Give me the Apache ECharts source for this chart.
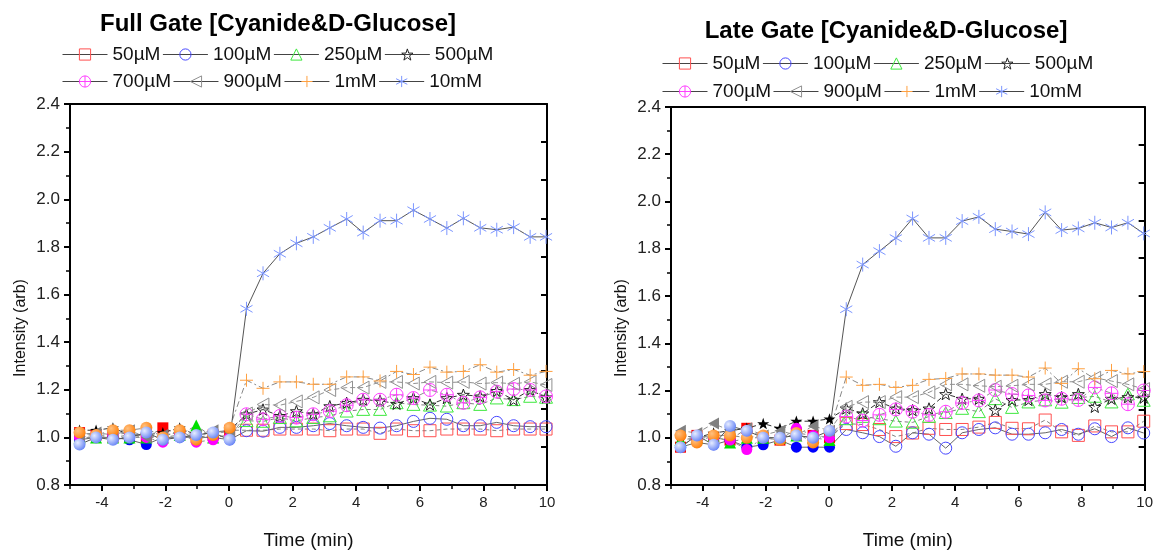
<!DOCTYPE html>
<html><head><meta charset="utf-8">
<script src="https://cdn.jsdelivr.net/npm/echarts@6/dist/echarts.min.js"></script>
<style>html,body{margin:0;padding:0;background:#fff}#c{width:1156px;height:555px}</style>
</head><body><div id="c"></div><script>
// ---------- DATA ----------
const titles = ['Full Gate [Cyanide&D-Glucose]', 'Late Gate [Cyanide&D-Glucose]'];
const concentrations = ['50µM', '100µM', '250µM', '500µM', '700µM', '900µM', '1mM', '10mM'];
const times = [-4.70, -4.18, -3.65, -3.13, -2.60, -2.08, -1.55, -1.03, -0.50, 0.02,
  0.55, 1.07, 1.60, 2.12, 2.65, 3.17, 3.70, 4.22, 4.75, 5.27, 5.80, 6.32, 6.85, 7.37, 7.90, 8.42, 8.95, 9.47, 9.97];
const xMajorTicks = [-4, -2, 0, 2, 4, 6, 8, 10];
const xMinorTicks = [-5, -3, -1, 1, 3, 5, 7, 9];

// Full gate
const full_50   = [1.02, 1.01, 1.00, 1.01, 1.00, 1.04, 1.01, 1.00, 1.01, 1.03,
  1.03, 1.03, 1.035, 1.035, 1.035, 1.028, 1.035, 1.035, 1.017, 1.035, 1.028, 1.028, 1.035, 1.035, 1.035, 1.028, 1.035, 1.035, 1.035];
const full_100  = [0.99, 1.00, 1.00, 0.99, 0.97, 1.00, 1.00, 1.00, 1.00, 0.99,
  1.028, 1.026, 1.042, 1.042, 1.049, 1.058, 1.049, 1.042, 1.039, 1.049, 1.067, 1.080, 1.076, 1.049, 1.049, 1.063, 1.049, 1.045, 1.045];
const full_250  = [1.00, 1.00, 1.00, 1.00, 1.00, 1.00, 1.01, 1.05, 1.00, 1.01,
  1.07, 1.067, 1.083, 1.069, 1.083, 1.090, 1.110, 1.117, 1.117, 1.145, 1.138, 1.135, 1.131, 1.145, 1.138, 1.165, 1.158, 1.172, 1.168];
const full_500  = [1.03, 1.03, 1.04, 1.01, 1.01, 1.02, 1.04, 1.01, 1.02, 1.03,
  1.097, 1.117, 1.090, 1.110, 1.097, 1.131, 1.145, 1.158, 1.154, 1.141, 1.165, 1.138, 1.165, 1.179, 1.172, 1.195, 1.158, 1.199, 1.168];
const full_700  = [1.00, 1.01, 1.01, 1.02, 1.00, 0.98, 1.02, 0.98, 0.99, 1.00,
  1.097, 1.076, 1.090, 1.083, 1.097, 1.110, 1.135, 1.158, 1.158, 1.179, 1.165, 1.199, 1.179, 1.145, 1.168, 1.192, 1.203, 1.199, 1.172];
const full_900  = [1.01, 1.02, 1.01, 1.03, 1.00, 1.01, 1.02, 1.01, 1.03, 1.02,
  1.10, 1.138, 1.135, 1.151, 1.168, 1.199, 1.209, 1.209, 1.233, 1.233, 1.226, 1.233, 1.230, 1.233, 1.226, 1.230, 1.225, 1.233, 1.220];
const full_1mM  = [1.02, 1.01, 1.03, 1.03, 1.04, 1.00, 1.03, 0.99, 1.01, 1.04,
  1.240, 1.206, 1.233, 1.233, 1.223, 1.223, 1.254, 1.254, 1.237, 1.277, 1.264, 1.295, 1.274, 1.277, 1.305, 1.274, 1.285, 1.261, 1.277];
const full_10mM = [0.97, 1.00, 0.99, 1.00, 1.02, 0.99, 1.00, 1.01, 1.02, 0.99,
  1.54, 1.689, 1.771, 1.815, 1.842, 1.880, 1.917, 1.860, 1.910, 1.910, 1.954, 1.917, 1.879, 1.920, 1.880, 1.872, 1.883, 1.842, 1.842];

// Late gate
const late_50   = [0.96, 1.01, 1.00, 0.99, 1.04, 1.00, 0.99, 1.02, 1.01, 1.00,
  1.06, 1.056, 1.035, 1.005, 1.02, 1.04, 1.035, 1.035, 1.045, 1.065, 1.04, 1.038, 1.075, 1.025, 1.01, 1.05, 1.025, 1.025, 1.07];
const late_100  = [0.96, 0.98, 0.97, 0.99, 0.96, 0.97, 0.99, 0.96, 0.96, 0.96,
  1.035, 1.021, 1.005, 0.964, 1.021, 1.015, 0.956, 1.021, 1.035, 1.042, 1.015, 1.015, 1.021, 1.035, 1.015, 1.038, 1.005, 1.042, 1.02];
const late_250  = [0.99, 1.00, 1.01, 0.98, 1.00, 1.00, 1.00, 1.01, 1.00, 0.99,
  1.08, 1.09, 1.08, 1.07, 1.065, 1.09, 1.106, 1.124, 1.11, 1.165, 1.128, 1.151, 1.16, 1.15, 1.17, 1.175, 1.151, 1.185, 1.158];
const late_500  = [1.01, 1.00, 1.02, 1.03, 1.04, 1.06, 1.04, 1.07, 1.07, 1.08,
  1.124, 1.103, 1.151, 1.124, 1.117, 1.124, 1.185, 1.165, 1.165, 1.117, 1.16, 1.16, 1.185, 1.172, 1.185, 1.131, 1.165, 1.172, 1.17];
const late_700  = [1.01, 1.00, 1.00, 0.99, 0.95, 1.00, 0.99, 1.04, 1.01, 1.00,
  1.090, 1.073, 1.097, 1.120, 1.110, 1.097, 1.110, 1.147, 1.158, 1.202, 1.185, 1.179, 1.158, 1.165, 1.16, 1.213, 1.188, 1.142, 1.20];
const late_900  = [1.03, 1.02, 1.06, 1.03, 1.04, 1.01, 1.03, 1.01, 1.05, 1.03,
  1.131, 1.151, 1.151, 1.172, 1.172, 1.192, 1.226, 1.226, 1.220, 1.216, 1.22, 1.226, 1.226, 1.237, 1.237, 1.254, 1.240, 1.226, 1.206];
const late_1mM  = [1.01, 0.98, 1.01, 1.01, 1.00, 1.01, 0.99, 1.02, 0.98, 1.03,
  1.257, 1.222, 1.226, 1.213, 1.222, 1.247, 1.251, 1.270, 1.270, 1.265, 1.265, 1.257, 1.295, 1.23, 1.292, 1.25, 1.285, 1.27, 1.28];
const late_10mM = [0.96, 1.01, 0.97, 1.05, 1.03, 1.00, 1.00, 1.01, 1.00, 1.03,
  1.544, 1.733, 1.790, 1.845, 1.928, 1.846, 1.846, 1.917, 1.935, 1.883, 1.873, 1.862, 1.954, 1.879, 1.886, 1.910, 1.890, 1.910, 1.865];

const fullSeriesValues = [full_50, full_100, full_250, full_500, full_700, full_900, full_1mM, full_10mM];
const lateSeriesValues = [late_50, late_100, late_250, late_500, late_700, late_900, late_1mM, late_10mM];

// ---------- STYLE ----------
const FONT = '"Liberation Sans", Arial, sans-serif';
const P_SQUARE = 'path://M0,0 L10,0 L10,10 L0,10 Z';
const P_CIRCLE = 'path://M10,5 A5,5 0 1,1 0,5 A5,5 0 1,1 10,5 Z';
const P_TRI = 'path://M5,0 L10,9 L0,9 Z';
const P_STAR = 'path://M5,0 L6.18,3.38 L9.76,3.45 L6.9,5.62 L7.94,9.05 L5,7 L2.06,9.05 L3.1,5.62 L0.24,3.45 L3.82,3.38 Z';
const P_CCIRCLE = 'path://M10,5 A5,5 0 1,1 0,5 A5,5 0 1,1 10,5 Z M5,0 L5,10 M0,5 L10,5';
const P_LTRI = 'path://M0,5 L9,0 L9,10 Z';
const P_PLUS = 'path://M5,0 L5,10 M0,5 L10,5';
const P_AST = 'path://M5,0 L5,10 M0.67,2.5 L9.33,7.5 M0.67,7.5 L9.33,2.5';

const hollowSymbol = [P_SQUARE, P_CIRCLE, P_TRI, P_STAR, P_CCIRCLE, P_LTRI, P_PLUS, P_AST];
const hollowSize = [12, 12, 13, 12, 13, 13, 13, 14];
const markColor = ['#ff5050', '#4848ff', '#3ee83e', '#222222', '#ff40ff', '#909090', '#ffa040', '#7c96ff'];
const lineColor = ['#808080', '#666666', '#808080', '#333333', '#909090', '#909090', '#888888', '#555555'];
const lineType = [[4, 3], 'solid', [4, 3], [5, 3], [6, 3, 2, 3], [5, 3], [6, 3, 2, 3], 'solid'];

function sphere(light, dark) {
  return {type: 'radial', x: 0.35, y: 0.35, r: 0.75, colorStops: [{offset: 0, color: light}, {offset: 1, color: dark}]};
}
const preSymbol = ['rect', 'circle', 'triangle', P_STAR, 'circle', P_LTRI, 'circle', 'circle'];
const preSize = [11, 11, 12, 12, 11, 12, 12, 12];
const preFill = ['#ff0000', '#0000ff', '#00e000', '#000000', '#ff00ff', '#808080',
  sphere('#ffc080', '#ff7a00'), sphere('#e6ecff', '#5d7cf5')];

function buildSeries(values, k, xi, yi) {
  const data = times.map(function (t, i) {
    if (t < 0.3) {
      return {value: [t, values[i]], symbol: preSymbol[k], symbolSize: preSize[k],
        itemStyle: {color: preFill[k], borderColor: 'rgba(0,0,0,0)', borderWidth: 0}};
    }
    return [t, values[i]];
  });
  return {
    type: 'line', name: concentrations[k], xAxisIndex: xi, yAxisIndex: yi, data: data,
    symbol: hollowSymbol[k], symbolSize: hollowSize[k], symbolKeepAspect: true, showAllSymbol: true,
    itemStyle: {color: 'rgba(255,255,255,0)', borderColor: markColor[k], borderWidth: 1},
    lineStyle: {color: lineColor[k], width: 1, type: lineType[k]},
    emphasis: {disabled: true}, silent: true
  };
}

const grids = [
  {left: 70, top: 104, width: 477, height: 390},
  {left: 671, top: 107, width: 475, height: 390}
];

const xAxes = [], yAxes = [];
grids.forEach(function (g, gi) {
  xAxes.push({
    gridIndex: gi, type: 'value', min: -5, max: 10, position: 'bottom',
    axisLine: {show: true, onZero: false, lineStyle: {color: '#000', width: 2}},
    axisTick: {show: true, customValues: xMajorTicks, length: 6, lineStyle: {color: '#000', width: 2}},
    axisLabel: {show: true, customValues: xMajorTicks, fontSize: 15, fontFamily: FONT, color: '#222', margin: 10},
    splitLine: {show: false},
    name: 'Time (min)', nameLocation: 'middle', nameGap: 46,
    nameTextStyle: {fontSize: 19, fontFamily: FONT, color: '#111'}
  });
  xAxes.push({
    gridIndex: gi, type: 'value', min: -5, max: 10, position: 'bottom',
    axisLine: {show: false, onZero: false},
    axisTick: {show: true, customValues: xMinorTicks, length: 4, lineStyle: {color: '#000', width: 1.5}},
    axisLabel: {show: false}, splitLine: {show: false}
  });
  xAxes.push({
    gridIndex: gi, type: 'value', min: -5, max: 10, position: 'top',
    axisLine: {show: true, onZero: false, lineStyle: {color: '#000', width: 2}},
    axisTick: {show: false}, axisLabel: {show: false}, splitLine: {show: false}
  });
  yAxes.push({
    gridIndex: gi, type: 'value', min: 0.8, max: 2.4, interval: 0.2, position: 'left',
    axisLine: {show: true, onZero: false, lineStyle: {color: '#000', width: 2}},
    axisTick: {show: true, length: 6, lineStyle: {color: '#000', width: 2}},
    minorTick: {show: true, splitNumber: 2, length: 4, lineStyle: {color: '#000', width: 1.5}},
    axisLabel: {fontSize: 17, fontFamily: FONT, color: '#222', margin: 10,
      formatter: function (v) { return v.toFixed(1); }},
    splitLine: {show: false}, minorSplitLine: {show: false}
  });
  yAxes.push({
    gridIndex: gi, type: 'value', min: 0.8, max: 2.4, interval: 0.16, position: 'right',
    axisLine: {show: true, onZero: false, lineStyle: {color: '#000', width: 2}},
    axisTick: {show: true, inside: true, length: 6, lineStyle: {color: '#000', width: 2}},
    axisLabel: {show: false}, splitLine: {show: false}
  });
});

const series = [];
fullSeriesValues.forEach(function (vals, k) { series.push(buildSeries(vals, k, 0, 0)); });
lateSeriesValues.forEach(function (vals, k) { series.push(buildSeries(vals, k, 3, 2)); });

function legendRow(names, left, top) {
  return {
    data: names, left: left, top: top, orient: 'horizontal', padding: 0,
    itemWidth: 45, itemHeight: 14, itemGap: 2, selectedMode: false,
    textStyle: {fontSize: 19, fontFamily: FONT, color: '#111'},
    itemStyle: {borderWidth: 1},
    lineStyle: {color: '#444', width: 1, type: 'solid'}
  };
}

const option = {
  animation: false,
  backgroundColor: '#fff',
  grid: grids,
  xAxis: xAxes,
  yAxis: yAxes,
  legend: [
    legendRow(concentrations.slice(0, 4), 62, 45),
    legendRow(concentrations.slice(4), 62, 72),
    legendRow(concentrations.slice(0, 4), 662, 54),
    legendRow(concentrations.slice(4), 662, 82)
  ],
  graphic: [
    {type: 'text', x: 278, y: 24, style: {text: titles[0], font: 'bold 24px ' + FONT, align: 'center', verticalAlign: 'middle', fill: '#000'}},
    {type: 'text', x: 886, y: 31, style: {text: titles[1], font: 'bold 24px ' + FONT, align: 'center', verticalAlign: 'middle', fill: '#000'}},
    {type: 'text', x: 21, y: 328, rotation: Math.PI / 2, style: {text: 'Intensity (arb)', font: '16px ' + FONT, align: 'center', verticalAlign: 'middle', fill: '#111'}},
    {type: 'text', x: 622, y: 328, rotation: Math.PI / 2, style: {text: 'Intensity (arb)', font: '16px ' + FONT, align: 'center', verticalAlign: 'middle', fill: '#111'}}
  ],
  series: series
};

const chart = echarts.init(document.getElementById('c'), null, {renderer: 'canvas'});
chart.setOption(option);
</script></body></html>
